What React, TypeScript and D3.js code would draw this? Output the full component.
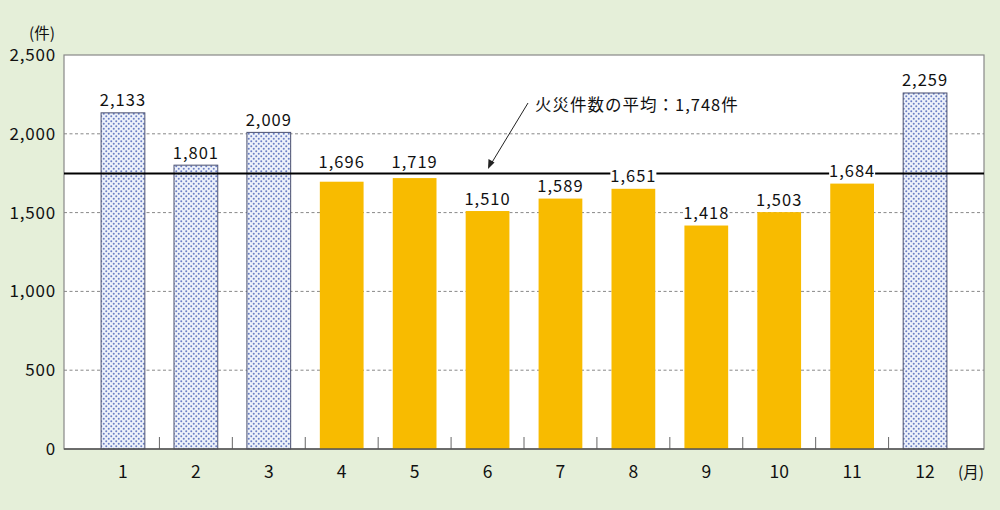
import React from 'react';
import * as d3 from 'd3';

const months = ['1', '2', '3', '4', '5', '6', '7', '8', '9', '10', '11', '12'];
const fireCounts = [2133, 1801, 2009, 1696, 1719, 1510, 1589, 1651, 1418, 1503, 1684, 2259];
// winter months drawn with the dotted pattern
const winterMonths = ['1', '2', '3', '12'];
const yTicks = [0, 500, 1000, 1500, 2000, 2500];
const averageCount = 1748;
const averageLabel = '火災件数の平均：1,748件';

const width = 1000;
const height = 510;
const plot = { left: 64, right: 984, top: 55, bottom: 449 };
const font = '"Noto Sans CJK JP", "Noto Sans", sans-serif';
// labels that sit just under the average line get lifted above it
const liftedLabels = ['4', '5'];

const fmt = d3.format(',');

const App: React.FC = () => {
  const x = d3.scaleBand<string>().domain(months).range([86.5, 961.5]).paddingInner(0.4).paddingOuter(0.2);
  const y = d3.scaleLinear().domain([0, 2500]).range([plot.bottom, plot.top]);
  const step = x.step();
  const bw = x.bandwidth();
  const avgY = y(averageCount);

  return (
    <svg
      width={width}
      height={height}
      viewBox={`0 0 ${width} ${height}`}
      style={{ position: 'absolute', left: 0, top: 0, fontFamily: font }}
    >
      <defs>
        <pattern id="dots" width="5" height="5" patternUnits="userSpaceOnUse">
          <rect width="5" height="5" fill="#eef2fa" />
          <circle cx="1.25" cy="1.25" r="1" fill="#6a7ec4" />
          <circle cx="3.75" cy="3.75" r="1" fill="#6a7ec4" />
        </pattern>
      </defs>

      <rect x={0} y={0} width={width} height={height} fill="#e5efd9" />
      <rect x={plot.left} y={plot.top} width={plot.right - plot.left} height={plot.bottom - plot.top} fill="#fff" stroke="#888" strokeWidth={1.2} />

      {/* grid */}
      {yTicks.filter(t => t > 0 && t < 2500).map(t => (
        <line key={`g-${t}`} x1={plot.left} x2={plot.right} y1={y(t)} y2={y(t)} stroke="#888" strokeWidth={1} strokeDasharray="3,2.5" />
      ))}

      {/* category separators */}
      {months.slice(0, -1).map(m => {
        const bx = (x(m) ?? 0) + bw + (step - bw) / 2;
        return <line key={`t-${m}`} x1={bx} x2={bx} y1={plot.bottom} y2={plot.bottom - 12} stroke="#666" strokeWidth={1} />;
      })}

      {/* bars */}
      {months.map((m, i) => {
        const winter = winterMonths.includes(m);
        return (
          <rect
            key={`b-${m}`}
            x={x(m)}
            y={y(fireCounts[i])}
            width={bw}
            height={plot.bottom - y(fireCounts[i])}
            fill={winter ? 'url(#dots)' : '#f8bb00'}
            stroke={winter ? '#4a5070' : 'none'}
            strokeWidth={1}
          />
        );
      })}

      <line x1={plot.left} x2={plot.right} y1={plot.bottom} y2={plot.bottom} stroke="#555" strokeWidth={1.5} />

      {/* average line */}
      <line x1={plot.left} x2={plot.right} y1={avgY} y2={avgY} stroke="#000" strokeWidth={2} />

      {/* value labels */}
      {months.map((m, i) => {
        const cx = (x(m) ?? 0) + bw / 2;
        const lifted = liftedLabels.includes(m);
        const ty = lifted ? avgY - 6 : y(fireCounts[i]) - 6.5;
        return (
          <g key={`l-${m}`}>
            {!lifted && <rect x={cx - 23} y={ty - 13.5} width={46} height={15.5} fill="#fff" />}
            <text x={cx} y={ty} textAnchor="middle" fontSize={16.5} letterSpacing={1} fill="#111">
              {fmt(fireCounts[i])}
            </text>
          </g>
        );
      })}

      {/* annotation */}
      <line x1={528} y1={103} x2={491} y2={164} stroke="#222" strokeWidth={1} />
      <path d="M 488 169 L 488.5 159 L 494.5 162.6 Z" fill="#222" />
      <text x={535} y={111} fontSize={16.5} letterSpacing={1} fill="#111">{averageLabel}</text>

      {/* y axis */}
      {yTicks.map(t => (
        <text key={`y-${t}`} x={56} y={y(t) + 6} textAnchor="end" fontSize={17} letterSpacing={0.8} fill="#111">
          {fmt(t)}
        </text>
      ))}
      <text x={55} y={39} textAnchor="end" fontSize={15.5} fill="#111">(件)</text>

      {/* x axis */}
      {months.map(m => (
        <text key={`x-${m}`} x={(x(m) ?? 0) + bw / 2} y={478} textAnchor="middle" fontSize={17.5} fill="#111">
          {m}
        </text>
      ))}
      <text x={984} y={478} textAnchor="end" fontSize={15.5} fill="#111">(月)</text>
    </svg>
  );
};

export default App;
